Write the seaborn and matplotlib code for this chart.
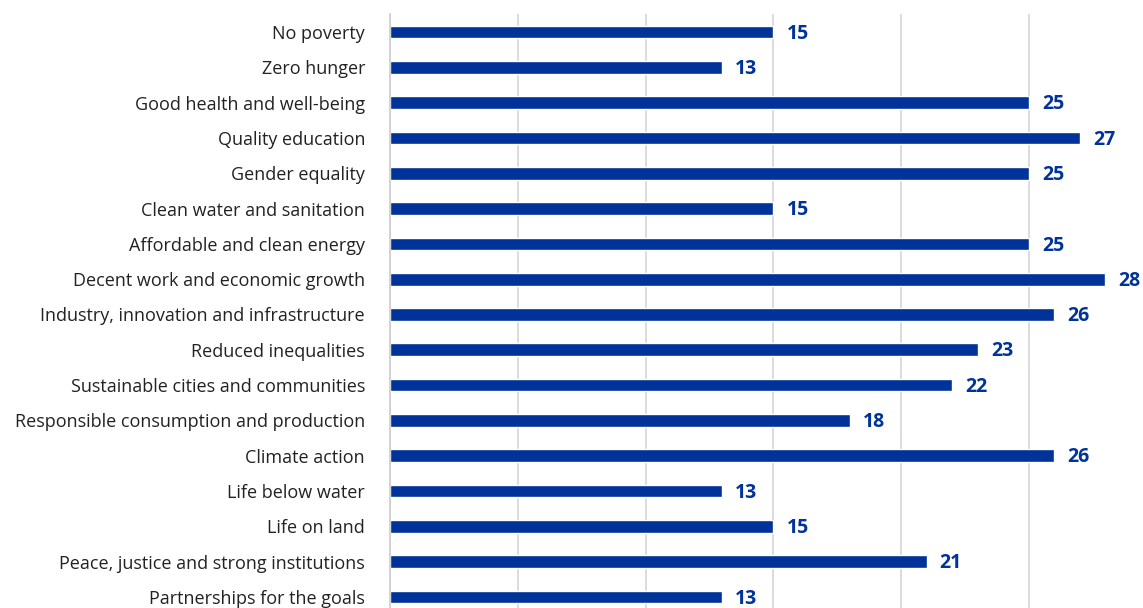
import matplotlib
matplotlib.use("Agg")
import matplotlib.pyplot as plt
import seaborn as sns
import pandas as pd
import numpy as np

categories = [
    "No poverty", "Zero hunger", "Good health and well-being", "Quality education",
    "Gender equality", "Clean water and sanitation", "Affordable and clean energy",
    "Decent work and economic growth", "Industry, innovation and infrastructure",
    "Reduced inequalities", "Sustainable cities and communities",
    "Responsible consumption and production", "Climate action", "Life below water",
    "Life on land", "Peace, justice and strong institutions", "Partnerships for the goals",
]
values = [15, 13, 25, 27, 25, 15, 25, 28, 26, 23, 22, 18, 26, 13, 15, 21, 13]

df = pd.DataFrame({"goal": categories, "value": values})

sns.set_theme(style="white")
plt.rcParams['font.family'] = ['Open Sans', 'DejaVu Sans']

W, H = 1143, 608
fig = plt.figure(figsize=(W / 100, H / 100), dpi=100)
top_px, bot_px = 14.4, 614.6
ax = fig.add_axes([390 / W, 1 - bot_px / H, 1 - 390 / W, (bot_px - top_px) / H])

blue = "#003399"
sns.barplot(data=df, x="value", y="goal", color=blue, width=0.36, ax=ax,
            saturation=1, orient="h")

ax.set_xlim(0, (W - 390) / 25.55)
ax.set_ylim(len(categories) - 0.5, -0.5)
ax.set_xticks([0, 5, 10, 15, 20, 25])
ax.set_xticklabels([])
ax.tick_params(axis="x", length=0)
ax.grid(axis="x", color="#d9d9d9", linewidth=1.3)
ax.set_axisbelow(True)
ax.set_xlabel("")
ax.set_ylabel("")
for s in ["top", "right", "bottom"]:
    ax.spines[s].set_visible(False)
ax.spines["left"].set_color("#d0d0d0")
ax.spines["left"].set_linewidth(1.3)

ax.set_yticks(range(len(categories)))
ax.set_yticklabels(categories, fontsize=13, color="#222222")
ax.tick_params(axis="y", length=0, pad=18)
# minor ticks at category boundaries
ax.set_yticks(np.arange(-0.5, len(categories), 1), minor=True)
ax.tick_params(axis="y", which="minor", length=4, color="#d0d0d0", width=1.3)

for i, v in enumerate(values):
    ax.annotate(str(v), xy=(v, i), xytext=(9.5, -1.2), textcoords="offset points",
                va="center", ha="left", fontsize=14, fontweight="bold", color=blue)

fig.savefig("out.png", dpi=100)
